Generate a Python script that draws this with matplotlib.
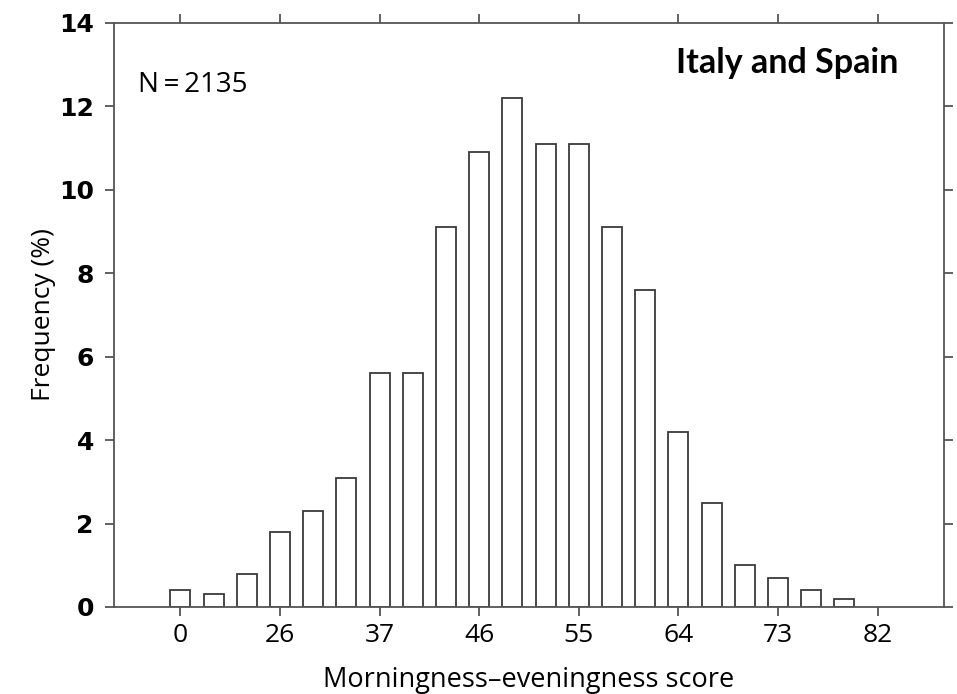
import matplotlib
matplotlib.use("Agg")
import matplotlib.pyplot as plt
import numpy as np

# Binned morningness–eveningness score distribution (percent of respondents)
frequency = [0.4, 0.3, 0.8, 1.8, 2.3, 3.1, 5.6, 5.6, 9.1, 10.9, 12.2,
             11.1, 11.1, 9.1, 7.6, 4.2, 2.5, 1.0, 0.7, 0.4, 0.2]
score_ticks = ["0", "26", "37", "46", "55", "64", "73", "82"]
freq_ticks = [0, 2, 4, 6, 8, 10, 12, 14]
sample_label = "N\u2009=\u20092135"
region_label = "Italy and Spain"

fig = plt.figure(figsize=(9.57, 6.94), dpi=100)
ax = fig.add_axes([0.1191, 0.1254, 0.8673, 0.8415])

bins = np.arange(len(frequency))
ax.bar(bins, frequency, width=0.6, facecolor="white",
       edgecolor="#3a3a3a", linewidth=1.3)

spine_color = "#555555"
for s in ax.spines.values():
    s.set_color(spine_color)
    s.set_linewidth(1.3)

ax.set_xlim(-2, 23)
ax.set_ylim(0, 14)

tick_pos = np.arange(0, 3 * len(score_ticks), 3)
ax.set_xticks(tick_pos)
ax.set_xticklabels(score_ticks, family="Open Sans", fontsize=19)
ax.set_yticks(freq_ticks)
ax.set_yticklabels([str(v) for v in freq_ticks], family="DejaVu Sans",
                   fontweight="bold", fontsize=18)

ax.tick_params(axis="both", direction="out", length=6.5, width=1.3,
               color=spine_color, top=True, right=True)
ax.tick_params(axis="x", pad=5)
ax.tick_params(axis="y", pad=8)

ax.set_xlabel("Morningness\u2013eveningness score", family="Open Sans",
              fontsize=19.5, labelpad=13)
ax.set_ylabel("Frequency (%)", family="Open Sans", fontsize=19, labelpad=2)

ax.text(0.029, 0.882, sample_label, transform=ax.transAxes,
        family="Open Sans", fontsize=20, ha="left", va="baseline")
ax.text(0.945, 0.914, region_label, transform=ax.transAxes,
        family="Lato", fontweight="bold", fontsize=24.5, ha="right",
        va="baseline")

fig.savefig("out.png", dpi=100)
